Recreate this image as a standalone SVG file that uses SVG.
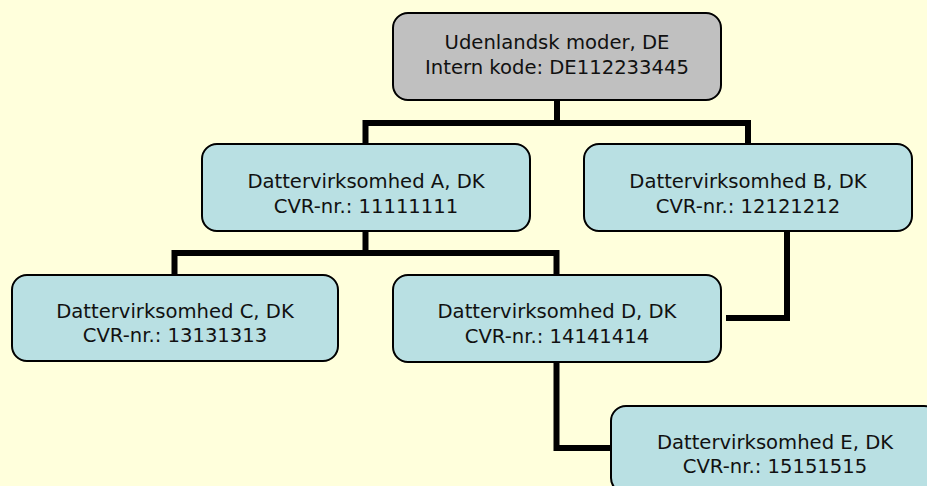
<svg xmlns="http://www.w3.org/2000/svg" width="927" height="486" viewBox="0 0 927 486">
<style>
.bg{fill:#FFFFDC}
.box{fill:#B9E0E3;stroke:#000;stroke-width:2}
.grey{fill:#C0C0C0}
.t{font-family:"DejaVu Sans","Open Sans",sans-serif;font-size:19.6px;fill:#111;text-anchor:middle}
.c{fill:none;stroke:#000;stroke-width:6;stroke-linejoin:miter;stroke-linecap:butt}
</style>
<rect class="bg" x="0" y="0" width="927" height="486"/>
<g id="connectors">
<path class="c" d="M557 100 V123"/>
<path class="c" d="M365.5 144 V123 H748 V144"/>
<path class="c" d="M365.5 231 V253"/>
<path class="c" d="M174.5 275 V253 H556.5 V275"/>
<path class="c" d="M787 231 V318 H726"/>
<path class="c" d="M556.5 362 V448 H611"/>
</g>
<g id="node-mother">
<rect class="box grey" x="393" y="13" width="328" height="87" rx="15"/>
<text class="t" x="557" y="49">Udenlandsk moder, DE</text>
<text class="t" x="557" y="74">Intern kode: DE112233445</text>
</g>
<g id="node-a">
<rect class="box" x="202" y="144" width="328" height="87" rx="15"/>
<text class="t" x="366" y="188">Dattervirksomhed A, DK</text>
<text class="t" x="366" y="213">CVR-nr.: 11111111</text>
</g>
<g id="node-b">
<rect class="box" x="584" y="144" width="328" height="87" rx="15"/>
<text class="t" x="748" y="188">Dattervirksomhed B, DK</text>
<text class="t" x="748" y="213">CVR-nr.: 12121212</text>
</g>
<g id="node-c">
<rect class="box" x="12" y="275" width="326" height="86" rx="15"/>
<text class="t" x="175" y="318">Dattervirksomhed C, DK</text>
<text class="t" x="175" y="342">CVR-nr.: 13131313</text>
</g>
<g id="node-d">
<rect class="box" x="393" y="275" width="328" height="87" rx="15"/>
<text class="t" x="557" y="318">Dattervirksomhed D, DK</text>
<text class="t" x="557" y="343">CVR-nr.: 14141414</text>
</g>
<g id="node-e">
<rect class="box" x="611" y="406" width="328" height="87" rx="15"/>
<text class="t" x="775" y="449">Dattervirksomhed E, DK</text>
<text class="t" x="775" y="473">CVR-nr.: 15151515</text>
</g>
</svg>
